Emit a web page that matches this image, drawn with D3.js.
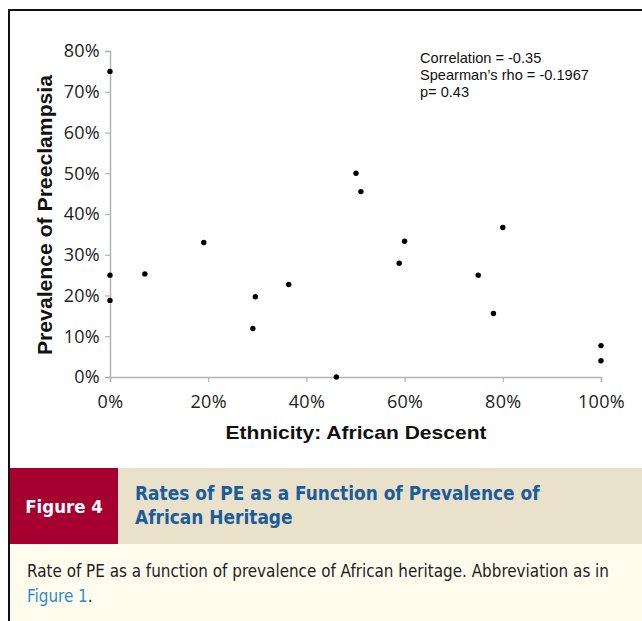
<!DOCTYPE html>
<html>
<head>
<meta charset="utf-8">
<script src="https://cdn.jsdelivr.net/npm/d3@7"></script>
<style>
  html, body { margin: 0; padding: 0; background: #fff; }
  svg { display: block; }
</style>
</head>
<body>
<svg id="chart" width="642" height="621"></svg>
<script>
// ---- data ----
const africanDescent = [0, 0, 0, 7.1, 19.1, 29.6, 29.1, 36.4, 46.1, 50.1, 51.1, 60.0, 58.9, 75.0, 80.0, 78.1, 100, 100];
const preeclampsia   = [75, 25, 18.8, 25.3, 33.0, 19.7, 11.9, 22.7, 0, 50, 45.5, 33.3, 27.9, 25.0, 36.7, 15.6, 7.7, 4.0];
const xTicks = [0, 20, 40, 60, 80, 100];
const yTicks = [0, 10, 20, 30, 40, 50, 60, 70, 80];
const statsLines = ["Correlation = -0.35", "Spearman\u2019s rho = -0.1967", "p= 0.43"];
const xTitle = "Ethnicity: African Descent";
const yTitle = "Prevalence of Preeclampsia";
const figLabel = "Figure 4";
const figTitle = ["Rates of PE as a Function of Prevalence of", "African Heritage"];
const captionText = "Rate of PE as a function of prevalence of African heritage. Abbreviation as in";
const captionLink = "Figure 1";

const svg = d3.select("#chart");
const W = 642, H = 621;

// frame
svg.append("line").attr("x1", 9).attr("x2", W).attr("y1", 10).attr("y2", 10)
  .attr("stroke", "#111").attr("stroke-width", 2);
svg.append("line").attr("x1", 9).attr("x2", 9).attr("y1", 9).attr("y2", H)
  .attr("stroke", "#111").attr("stroke-width", 2);

// scales
const x = d3.scaleLinear().domain([0, 100]).range([110, 601]);
const y = d3.scaleLinear().domain([0, 80]).range([377, 51]);

const axisColor = "#b4b4b4";
const tickFont = "'Open Sans', sans-serif";

// y axis
const gy = svg.append("g").attr("transform", `translate(${x(0)},0)`)
  .call(d3.axisLeft(y).tickValues(yTicks).tickFormat(d => d + "%").tickSize(5).tickPadding(5));
gy.select(".domain").attr("stroke", axisColor).attr("stroke-width", 1.5);
gy.selectAll(".tick line").attr("stroke", axisColor).attr("stroke-width", 1.2);
gy.selectAll(".tick text").attr("fill", "#222").attr("font-family", tickFont)
  .attr("font-size", 18).attr("letter-spacing", 0.3);

// x axis
const gx = svg.append("g").attr("transform", `translate(0,${y(0)})`)
  .call(d3.axisBottom(x).tickValues(xTicks).tickFormat(d => d + "%").tickSize(5).tickPadding(13));
gx.select(".domain").attr("stroke", axisColor).attr("stroke-width", 1.5);
gx.selectAll(".tick line").attr("stroke", axisColor).attr("stroke-width", 1.2);
gx.selectAll(".tick text").attr("fill", "#222").attr("font-family", tickFont)
  .attr("font-size", 18).attr("letter-spacing", 0.3);

// points
svg.append("g").selectAll("circle").data(africanDescent.map((d, i) => [d, preeclampsia[i]]))
  .join("circle")
  .attr("cx", d => x(d[0])).attr("cy", d => y(d[1])).attr("r", 2.7).attr("fill", "#000");

// axis titles
svg.append("text").attr("x", 356).attr("y", 439).attr("text-anchor", "middle")
  .attr("font-family", "'Liberation Sans', Arial, sans-serif").attr("font-weight", "bold")
  .attr("font-size", 19).attr("textLength", 261).attr("lengthAdjust", "spacingAndGlyphs")
  .attr("fill", "#111").text(xTitle);
svg.append("text").attr("transform", "translate(52,215) rotate(-90)").attr("text-anchor", "middle")
  .attr("font-family", "'Liberation Sans', Arial, sans-serif").attr("font-weight", "bold")
  .attr("font-size", 20).attr("textLength", 280).attr("lengthAdjust", "spacingAndGlyphs")
  .attr("fill", "#111").text(yTitle);

// stats annotation
svg.append("g").selectAll("text").data(statsLines).join("text")
  .attr("x", 420).attr("y", (d, i) => 63 + i * 17)
  .attr("font-family", "'Liberation Sans', Arial, sans-serif")
  .attr("font-size", 14.6).attr("fill", "#111").text(d => d);

// banner
svg.append("rect").attr("x", 10).attr("y", 468).attr("width", W - 10).attr("height", 76).attr("fill", "#e9e1ca");
svg.append("rect").attr("x", 10).attr("y", 468).attr("width", 108).attr("height", 76).attr("fill", "#a60031");
svg.append("rect").attr("x", 10).attr("y", 544).attr("width", W - 10).attr("height", H - 544).attr("fill", "#fffcee");

const condensed = "'DejaVu Sans Condensed', 'Liberation Sans Narrow', sans-serif";
svg.append("text").attr("x", 64).attr("y", 513).attr("text-anchor", "middle")
  .attr("font-family", condensed).attr("font-weight", "bold").attr("font-size", 18.5)
  .attr("fill", "#fff").text(figLabel);
svg.append("g").selectAll("text").data(figTitle).join("text")
  .attr("x", 135).attr("y", (d, i) => 500 + i * 24)
  .attr("font-family", condensed).attr("font-weight", "bold").attr("font-size", 18.9)
  .attr("fill", "#1a5c9c").text(d => d);

// caption
const cap = svg.append("text").attr("x", 27).attr("y", 577)
  .attr("font-family", condensed).attr("font-size", 16.9).attr("fill", "#222");
cap.text(captionText);
const cap2 = svg.append("text").attr("x", 27).attr("y", 602)
  .attr("font-family", condensed).attr("font-size", 16.9).attr("fill", "#222");
cap2.append("tspan").attr("fill", "#2a8ccc").text(captionLink);
cap2.append("tspan").text(".");
</script>
</body>
</html>
